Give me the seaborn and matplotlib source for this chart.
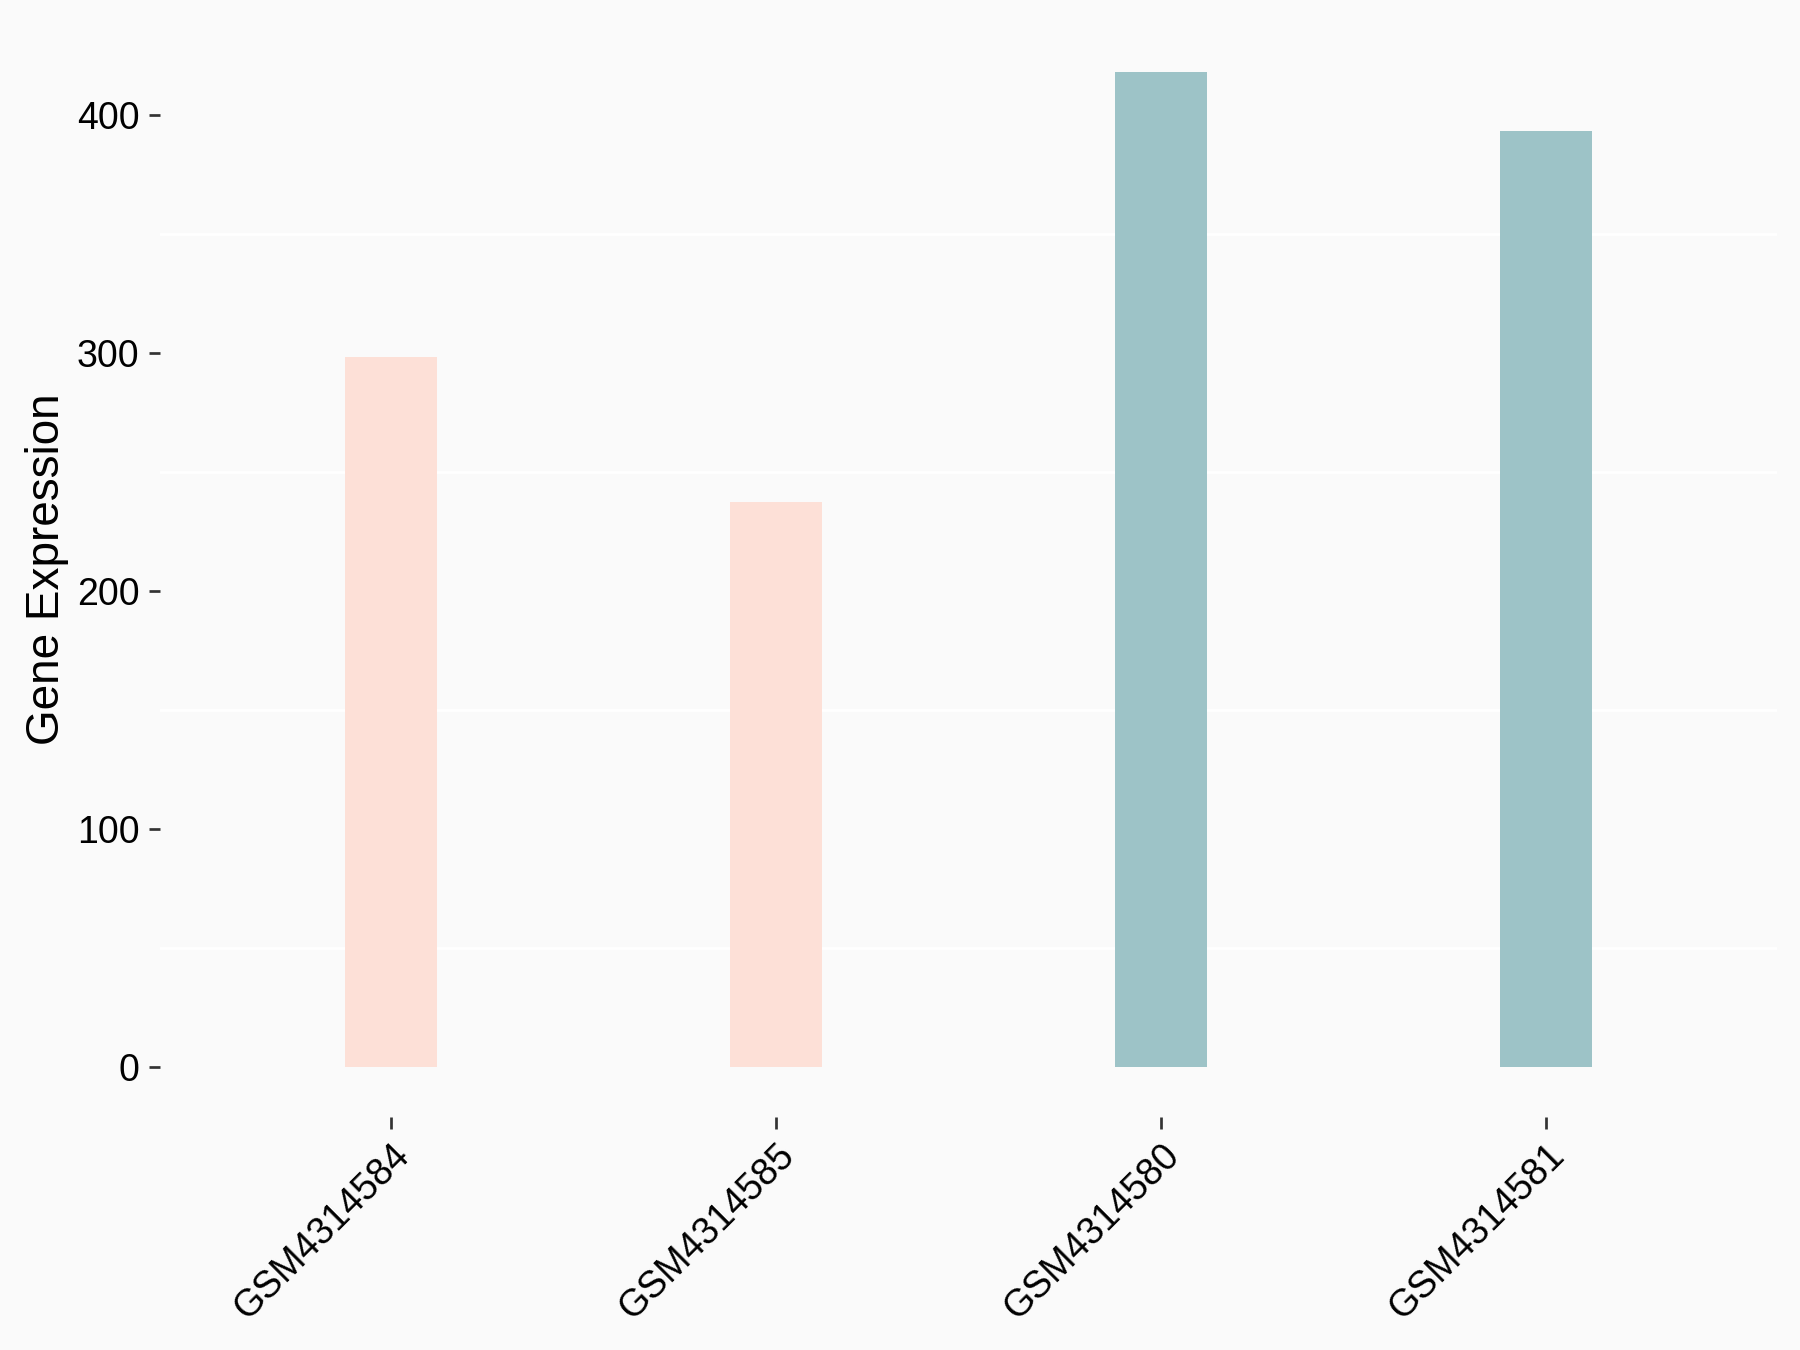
import matplotlib
matplotlib.use("Agg")
import matplotlib.pyplot as plt
import seaborn as sns
import pandas as pd

# values
samples = ["GSM4314584", "GSM4314585", "GSM4314580", "GSM4314581"]
expression = [298.4, 237.5, 418.0, 393.3]
groups = ["A", "A", "B", "B"]
group_colors = {"A": "#FDE0D7", "B": "#9DC3C7"}
y_ticks = [0, 100, 200, 300, 400]
y_minor = [50, 150, 250, 350]

df = pd.DataFrame({"Sample": samples, "Expression": expression, "Group": groups})

plt.rcParams["font.family"] = ["Liberation Sans", "DejaVu Sans"]

fig = plt.figure(figsize=(12, 9), dpi=150, facecolor="#FAFAFA")
ax = fig.add_axes([0.08889, 0.17281, 0.89833, 0.81067])
ax.set_facecolor("#FAFAFA")

sns.barplot(data=df, x="Sample", y="Expression", hue="Group", palette=group_colors,
            dodge=False, width=0.24, legend=False, saturation=1, ax=ax)

ax.set_xlim(-0.6, 3.6)
top = max(expression)
ax.set_ylim(-0.05 * top, 1.05 * top)

for s in ax.spines.values():
    s.set_visible(False)

ax.set_yticks(y_ticks)
ax.set_yticks(y_minor, minor=True)
ax.yaxis.grid(False, which="major")
ax.yaxis.grid(True, which="minor", color="white", linewidth=1.4)
ax.xaxis.grid(False)
ax.set_axisbelow(True)

ax.tick_params(axis="y", which="major", length=5.3, width=1.3, color="#333333",
               labelsize=18, pad=4.5, labelcolor="black")
ax.tick_params(axis="y", which="minor", length=0)
ax.tick_params(axis="x", length=5.8, width=1.3, color="#333333",
               labelsize=18, pad=4, labelcolor="black")
plt.setp(ax.get_xticklabels(), rotation=45, ha="right", va="top", rotation_mode="anchor")

ax.set_xlabel("")
ax.set_ylabel("Gene Expression", fontsize=22, color="black")
ax.yaxis.set_label_coords(-0.056, 0.5)

fig.savefig("out.png", dpi=150, facecolor="#FAFAFA")
